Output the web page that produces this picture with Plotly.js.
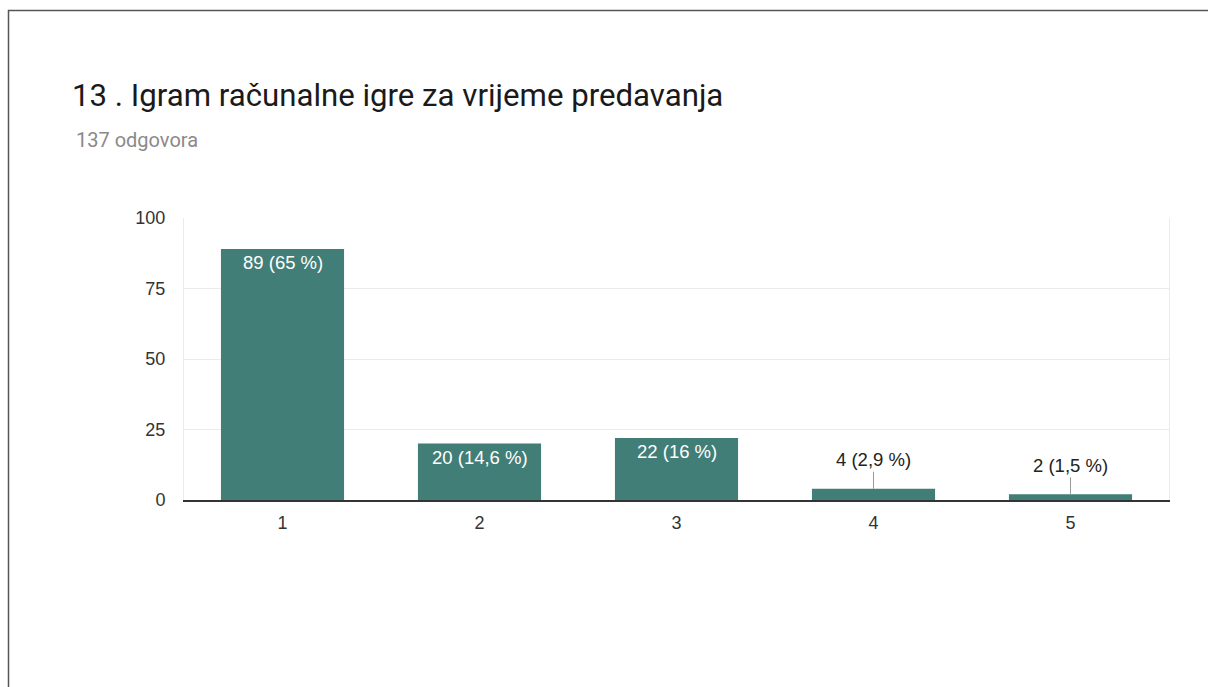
<!DOCTYPE html>
<html>
<head>
<meta charset="utf-8">
<script src="https://cdn.plot.ly/plotly-3.0.1.min.js"></script>
<style>html,body{margin:0;padding:0;background:#fff;}#chart{width:1208px;height:687px;}</style>
</head>
<body>
<div id="chart"></div>
<script>
const categories = ["1", "2", "3", "4", "5"];
const counts = [89, 20, 22, 4, 2];
const labels = ["89 (65 %)", "20 (14,6 %)", "22 (16 %)", "4 (2,9 %)", "2 (1,5 %)"];
const insideLabel = [true, true, true, false, false];
const yTicks = [0, 25, 50, 75, 100];
const titleText = "13 . Igram računalne igre za vrijeme predavanja";
const subtitleText = "137 odgovora";

const W = 1208, H = 687;
const L = 184, R = 1169, T = 218, B = 500;
const px = x => (x - L) / (R - L);
const py = y => (B - y) / (B - T);

const barColor = "#417e78";
const labelFont = "Liberation Sans, Arial";

const annotations = [];
categories.forEach((c, i) => {
  if (insideLabel[i]) {
    annotations.push({
      x: i, y: counts[i], xref: "x", yref: "y",
      text: labels[i], showarrow: false, yanchor: "top", yshift: -1,
      font: {family: labelFont, size: 18.5, color: "#ffffff"}
    });
  } else {
    annotations.push({
      x: i, y: counts[i], xref: "x", yref: "y",
      text: labels[i], showarrow: true, arrowhead: 0, arrowwidth: 1,
      arrowcolor: "#999999", ax: 0, ay: -29, standoff: 0,
      font: {family: labelFont, size: 18.5, color: "#222222"}
    });
  }
});
annotations.push({
  xref: "paper", yref: "paper", x: px(70), y: py(96), xanchor: "left", yanchor: "middle",
  text: titleText, showarrow: false,
  font: {family: "Roboto, Arial", size: 31.2, color: "#1a1a1a"}
});
annotations.push({
  xref: "paper", yref: "paper", x: px(73.5), y: py(140), xanchor: "left", yanchor: "middle",
  text: subtitleText, showarrow: false,
  font: {family: "Roboto, Arial", size: 20, color: "#8a8a8a"}
});

const shapes = [
  {type: "line", xref: "paper", yref: "paper", x0: px(8.5), x1: px(8.5), y0: py(10), y1: py(700),
   line: {color: "#555555", width: 1.5}},
  {type: "line", xref: "paper", yref: "paper", x0: px(8), x1: px(1210), y0: py(10.5), y1: py(10.5),
   line: {color: "#555555", width: 1.5}}
];

const trace = {
  type: "bar", x: categories, y: counts,
  marker: {color: barColor},
  width: 0.625, hoverinfo: "none"
};

const layout = {
  width: W, height: H,
  margin: {l: L, r: W - R, t: T, b: H - B, pad: 0},
  paper_bgcolor: "#ffffff", plot_bgcolor: "#ffffff",
  showlegend: false,
  xaxis: {
    type: "category", range: [-0.5, 4.5], showgrid: false, zeroline: false,
    showline: true, linecolor: "#333333", linewidth: 1.5,
    ticks: "", ticklabelstandoff: 6,
    tickfont: {family: labelFont, size: 18, color: "#333333"}
  },
  yaxis: {
    range: [0, 100], tickvals: yTicks, ticktext: yTicks.map(String),
    showgrid: true, gridcolor: "#ebebeb", gridwidth: 1, zeroline: false,
    showline: true, linecolor: "#ebebeb", mirror: true,
    ticks: "", ticklabelstandoff: 14,
    tickfont: {family: labelFont, size: 18, color: "#333333"}
  },
  annotations: annotations,
  shapes: shapes
};

Plotly.newPlot("chart", [trace], layout, {displayModeBar: false, staticPlot: true});
</script>
</body>
</html>
